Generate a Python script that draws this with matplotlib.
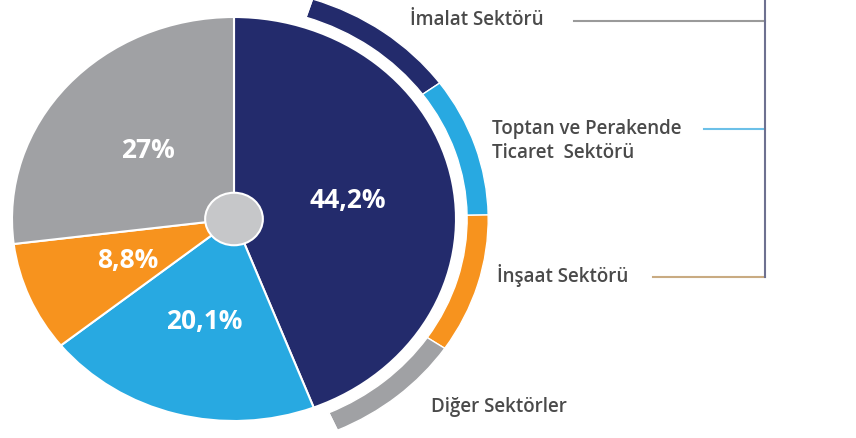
import numpy as np
import matplotlib
matplotlib.use("Agg")
import matplotlib.pyplot as plt

plt.rcParams['font.family'] = ['Open Sans', 'DejaVu Sans']

# veriler
sektorler = ["İmalat Sektörü", "Toptan ve Perakende\nTicaret  Sektörü", "İnşaat Sektörü", "Diğer Sektörler"]
paylar = [44.2, 20.1, 8.8, 27.0]
etiketler = ["44,2%", "20,1%", "8,8%", "27%"]
renkler = ["#232b6c", "#28a9e1", "#f7931e", "#a0a1a4"]
cizgi_renk = ["#9a9a9a", "#6cc0e8", "#c9ab82", None]
halka_aciklik = [36, 35, 35, 32]   # dis halka parcalari (derece)

W, H = 856, 439
fig = plt.figure(figsize=(W / 100, H / 100), dpi=100)

# pasta icin ayri eksen (elips gorunumu icin)
cx, cy, rx, ry, L = 234, 220, 222, 202, 1.2
ax_p = fig.add_axes([(cx - L * rx) / W, (H - (cy + L * ry)) / H, 2 * L * rx / W, 2 * L * ry / H])
wedges, _ = ax_p.pie(paylar, colors=renkler, startangle=90, counterclock=False, radius=1.0,
                     wedgeprops=dict(edgecolor="white", linewidth=1.5))
ax_p.pie(halka_aciklik + [360 - sum(halka_aciklik)], colors=renkler + ["none"], startangle=72,
         counterclock=False, radius=1.145, wedgeprops=dict(width=0.095, edgecolor="white", linewidth=1))
ax_p.add_patch(plt.Circle((0, 0), 0.13, facecolor="#c6c7c9", edgecolor="white", linewidth=1.5, zorder=5))
for w, et in zip(wedges, etiketler):
    ang = np.deg2rad((w.theta1 + w.theta2) / 2)
    ax_p.text(0.52 * np.cos(ang), 0.52 * np.sin(ang), et, ha="center", va="center",
              color="white", fontsize=19, fontweight="bold")
ax_p.set_aspect("auto")
ax_p.set_xlim(-L, L)
ax_p.set_ylim(-L, L)
ax_p.axis("off")

# sag taraf: etiketler ve baglanti cizgileri
ax = fig.add_axes([0, 0, 1, 1], zorder=-1)
ax.set_xlim(0, W)
ax.set_ylim(H, 0)
ax.axis("off")

etiket_x = [410, 492, 497, 431]
etiket_y = [20, 141, 276, 407]
cizgi_bas = [574, 704, 653, None]
cizgi_y = [22, 130, 278, None]
for s, x, y in zip(sektorler, etiket_x, etiket_y):
    ax.text(x, y, s, ha="left", va="center", fontsize=13.5, fontweight="semibold",
            color="#4a4a4a", linespacing=1.25)
for xb, y, c in zip(cizgi_bas, cizgi_y, cizgi_renk):
    if xb is not None:
        ax.plot([xb, 765], [y, y], color=c, linewidth=1.5)
ax.plot([765, 765], [0, 278], color="#6e7190", linewidth=1.5)

fig.savefig("out.png", dpi=100)
